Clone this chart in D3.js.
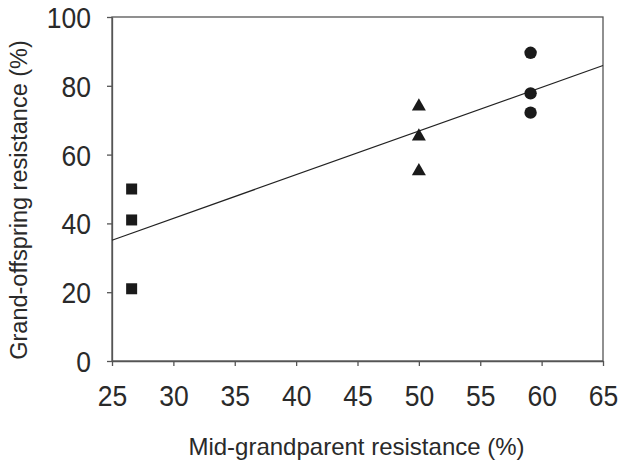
<!DOCTYPE html>
<html><head><meta charset="utf-8">
<script src="https://cdn.jsdelivr.net/npm/d3@7"></script>
<style>body{margin:0;background:#fff}svg{display:block}</style>
</head><body>
<svg id="c" width="625" height="466"></svg>
<script>
const xTicks = [25,30,35,40,45,50,55,60,65];
const yTicks = [0,20,40,60,80,100];
const squaresX = [26.6,26.6,26.6];
const squaresY = [50,41,21];
const trianglesX = [50,50,50];
const trianglesY = [74,65.3,55.2];
const circlesX = [59.1,59.1,59.1];
const circlesY = [89.6,77.8,72.2];
const lineX = [25,65];
const lineY = [35.1,85.9];

const svg = d3.select("#c");
const L=112,R=603,T=17,B=361;
const x = d3.scaleLinear().domain([25,65]).range([L,R]);
const y = d3.scaleLinear().domain([0,100]).range([B,T]);
const axisCol="#555", txtCol="#2a2a2a", font="Liberation Sans, Arial, sans-serif";
const sy = 1.1;

svg.append("rect").attr("x",L).attr("y",T).attr("width",R-L).attr("height",B-T)
  .attr("fill","none").attr("stroke",axisCol).attr("stroke-width",1.3);

const gx = svg.append("g").attr("transform",`translate(0,${B})`)
  .call(d3.axisBottom(x).tickValues(xTicks).tickSize(5).tickPadding(16).tickSizeOuter(0));
const gy = svg.append("g").attr("transform",`translate(${L},0)`)
  .call(d3.axisLeft(y).tickValues(yTicks).tickSize(5).tickPadding(16).tickSizeOuter(0));
[gx,gy].forEach(g=>{
  g.select(".domain").attr("stroke",axisCol).attr("stroke-width",1.3);
  g.selectAll(".tick line").attr("stroke",axisCol).attr("stroke-width",1.3);
  g.selectAll(".tick text").attr("fill",txtCol).attr("font-family",font).attr("font-size",26.5)
    .attr("transform",`scale(1,${sy})`);
});
gx.selectAll(".tick text").attr("y",45/sy).attr("dy",0);
gy.selectAll(".tick text").attr("y",0).attr("dy","0.36em");

svg.append("line").attr("x1",x(lineX[0])).attr("y1",y(lineY[0]))
  .attr("x2",x(lineX[1])).attr("y2",y(lineY[1])).attr("stroke","#222").attr("stroke-width",1.2);

const sq = squaresX.map((v,i)=>({x:v,y:squaresY[i]}));
const tr = trianglesX.map((v,i)=>({x:v,y:trianglesY[i]}));
const ci = circlesX.map((v,i)=>({x:v,y:circlesY[i]}));
svg.selectAll(".sq").data(sq).enter().append("rect")
  .attr("x",d=>x(d.x)-5.5).attr("y",d=>y(d.y)-5.5).attr("width",11).attr("height",11).attr("fill","#1a1a1a");
svg.selectAll(".tr").data(tr).enter().append("path")
  .attr("d",d3.symbol().type(d3.symbolTriangle).size(85))
  .attr("transform",d=>`translate(${x(d.x)},${y(d.y)})`).attr("fill","#1a1a1a");
svg.selectAll(".ci").data(ci).enter().append("circle")
  .attr("cx",d=>x(d.x)).attr("cy",d=>y(d.y)).attr("r",6.2).attr("fill","#1a1a1a");

svg.append("text").attr("x",356.5).attr("y",455).attr("text-anchor","middle")
  .attr("fill",txtCol).attr("font-family",font).attr("font-size",24).text("Mid-grandparent resistance (%)");
svg.append("text").attr("transform","translate(27,200) rotate(-90)").attr("text-anchor","middle")
  .attr("fill",txtCol).attr("font-family",font).attr("font-size",23.5).text("Grand-offspring resistance (%)");
</script>
</body></html>
